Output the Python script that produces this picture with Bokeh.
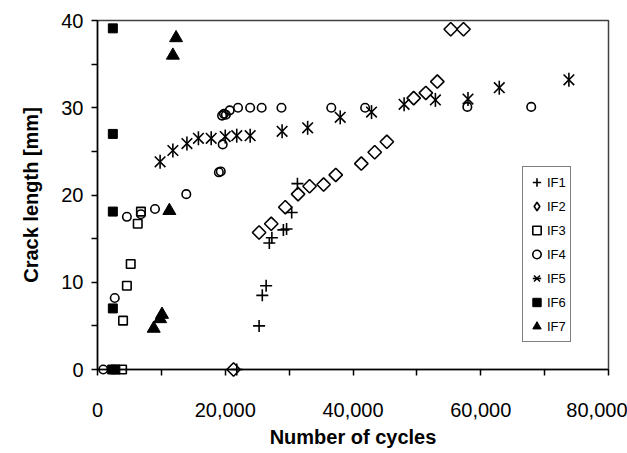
import math
from bokeh.plotting import figure
from bokeh.models import Range1d, FixedTicker, NumeralTickFormatter, Legend, LegendItem
from bokeh.embed import file_html
from bokeh.resources import INLINE

# ---- data (cycles, crack length mm) ----
if1_x = [21800, 25300, 25800, 26400, 26900, 27300, 29100, 29600, 30400, 31300]
if1_y = [0, 5.0, 8.5, 9.6, 14.5, 15.1, 16.0, 16.1, 18.0, 21.3]

if2_x = [21300, 25300, 27200, 29400, 31400, 33200, 35400, 37300, 41300, 43400, 45300,
         49500, 51400, 53200, 55300, 57300]
if2_y = [0, 15.7, 16.7, 18.6, 20.1, 21.0, 21.2, 22.3, 23.6, 24.9, 26.1,
         31.1, 31.7, 33.0, 39.0, 39.0]

if3_x = [3850, 4000, 4600, 5200, 6300, 6800]
if3_y = [0, 5.6, 9.6, 12.1, 16.7, 18.1]

if4_x = [900, 2700, 4600, 6800, 9000, 13900, 19000, 19300, 19600, 19500, 19800, 20100,
         20700, 22000, 23900, 25700, 28800, 36600, 41900, 57900, 67900]
if4_y = [0, 8.2, 17.5, 17.8, 18.4, 20.1, 22.6, 22.7, 25.8, 29.1, 29.3, 29.2,
         29.7, 30.0, 30.0, 30.0, 30.0, 30.0, 30.0, 30.1, 30.1]

if5_x = [9800, 11800, 14000, 15800, 17800, 20000, 21800, 23900, 28900, 32900, 38000,
         42900, 48000, 52900, 58000, 62900, 73800]
if5_y = [23.8, 25.1, 25.9, 26.5, 26.5, 26.7, 26.8, 26.8, 27.3, 27.7, 28.9,
         29.5, 30.4, 30.9, 31.0, 32.3, 33.2]

if6_x = [2300, 2800, 2400, 2400, 2400, 2400]
if6_y = [0, 0, 7.0, 18.1, 27.0, 39.1]

if7_x = [8800, 9800, 10100, 11250, 11800, 12300]
if7_y = [4.7, 5.8, 6.3, 18.2, 36.0, 38.0]

series_labels = ["IF1", "IF2", "IF3", "IF4", "IF5", "IF6", "IF7"]

x_major = [0, 20000, 40000, 60000, 80000]
x_minor = [10000, 30000, 50000, 70000]
y_major = [0, 10, 20, 30, 40]
y_minor = [5, 15, 25, 35]

FONT = "Liberation Sans"

p = figure(width=627, height=453, output_backend="svg", toolbar_location=None,
           x_range=Range1d(0, 80000), y_range=Range1d(0, 40),
           min_border_left=97, min_border_right=19, min_border_top=20, min_border_bottom=84)
p.xgrid.visible = False
p.ygrid.visible = False
p.outline_line_color = "#404040"
p.outline_line_width = 1.5
p.background_fill_color = "white"
p.border_fill_color = "white"

p.xaxis.ticker = FixedTicker(ticks=x_major, minor_ticks=x_minor)
p.yaxis.ticker = FixedTicker(ticks=y_major, minor_ticks=y_minor)
p.xaxis.formatter = NumeralTickFormatter(format="0,0")

for ax in (p.xaxis, p.yaxis):
    ax.axis_line_color = "black"
    ax.axis_line_width = 1.5
    ax.major_tick_line_color = "black"
    ax.major_tick_line_width = 1.5
    ax.minor_tick_line_color = "black"
    ax.minor_tick_line_width = 1.5
    ax.major_tick_in = 0
    ax.minor_tick_in = 0
    ax.major_tick_out = 6
    ax.minor_tick_out = 6
    ax.major_label_text_font = FONT
    ax.major_label_text_font_size = "20px"
    ax.major_label_text_color = "black"
    ax.axis_label_text_font = FONT
    ax.axis_label_text_font_size = "20px"
    ax.axis_label_text_font_style = "bold"
    ax.axis_label_text_color = "black"

p.xaxis.axis_label = "Number of cycles"
p.yaxis.axis_label = "Crack length [mm]"
p.xaxis.major_label_standoff = 27
p.xaxis.axis_label_standoff = 6
p.yaxis.major_label_standoff = 8
p.yaxis.axis_label_standoff = 16

LW = 1.6
r1 = p.scatter(if1_x, if1_y, marker="cross", size=12, line_color="black", line_width=LW, level="overlay")
r2 = p.scatter(if2_x, if2_y, marker="square", angle=math.pi / 4, size=9.5, fill_color=None,
               line_color="black", line_width=LW, level="overlay")
# legend key for IF2 (rotated square keys are drawn unrotated by the legend)
r2_key = p.scatter(if2_x, if2_y, marker="diamond", size=9, fill_color=None,
                   line_color="black", line_width=LW, level="overlay", visible=False)
r3 = p.scatter(if3_x, if3_y, marker="square", size=8.5, fill_color=None, line_color="black",
               line_width=LW, level="overlay")
r4 = p.scatter(if4_x, if4_y, marker="circle", size=8.5, fill_color=None, line_color="black",
               line_width=LW, level="overlay")
r5a = p.scatter(if5_x, if5_y, marker="x", size=15, line_color="black", line_width=LW, level="overlay")
r5b = p.scatter(if5_x, if5_y, marker="dash", angle=math.pi / 2, size=14, line_color="black",
                line_width=LW, level="overlay")
r6 = p.scatter(if6_x, if6_y, marker="square", size=9, fill_color="black", line_color="black",
               level="overlay")
r7 = p.scatter(if7_x, if7_y, marker="triangle", size=13, fill_color="black", line_color="black",
               level="overlay")

legend = Legend(items=[
    LegendItem(label=series_labels[0], renderers=[r1]),
    LegendItem(label=series_labels[1], renderers=[r2_key]),
    LegendItem(label=series_labels[2], renderers=[r3]),
    LegendItem(label=series_labels[3], renderers=[r4]),
    LegendItem(label=series_labels[4], renderers=[r5a, r5b]),
    LegendItem(label=series_labels[5], renderers=[r6]),
    LegendItem(label=series_labels[6], renderers=[r7]),
], location=(425, 27))
legend.border_line_color = "black"
legend.border_line_width = 1
legend.background_fill_color = "white"
legend.background_fill_alpha = 1
legend.label_text_font = FONT
legend.label_text_font_size = "13px"
legend.label_text_color = "black"
legend.padding = 3
legend.spacing = 0
legend.margin = 0
legend.glyph_width = 21
legend.glyph_height = 24
legend.label_height = 24
legend.label_standoff = 0
legend.label_width = 20
p.add_layout(legend)

open("out.html", "w").write(file_html(p, INLINE))
